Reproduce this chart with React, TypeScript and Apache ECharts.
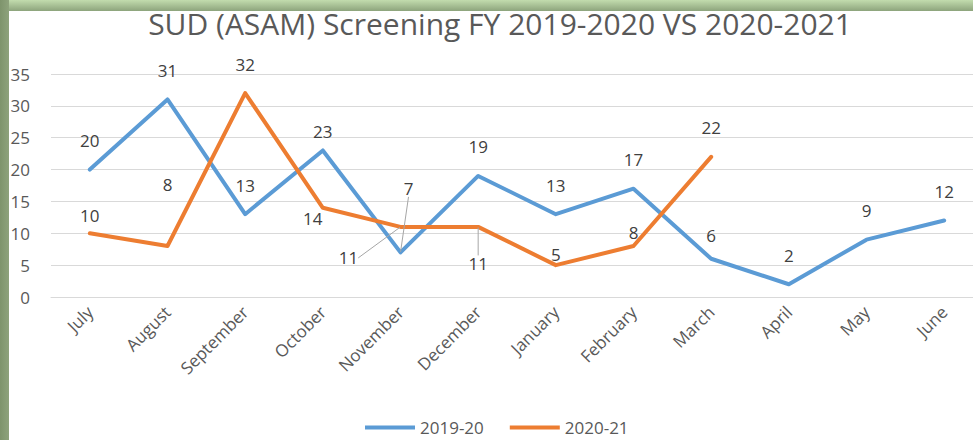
import React, { useEffect, useRef } from "react";
import * as echarts from "echarts";

const categories = ["July", "August", "September", "October", "November", "December", "January", "February", "March", "April", "May", "June"];
const fy1920 = [20, 31, 13, 23, 7, 19, 13, 17, 6, 2, 9, 12];
const fy2021: (number | null)[] = [10, 8, 32, 14, 11, 11, 5, 8, 22, null, null, null];
const seriesNames = ["2019-20", "2020-21"];
const yTicks = { min: 0, max: 35, interval: 5 };

// label displacement (px) from default "top" position: [seriesIndex][dataIndex]
const labelShift: Record<string, [number, number]> = {
  "1-0": [0, 11],
  "1-1": [0, -33],
  "0-3": [0, 10],
  "1-3": [-10, 40],
  "0-4": [8, -35],
  "1-4": [-52, 60],
  "1-5": [0, 66],
  "1-6": [0, 18],
  "1-7": [0, 15],
  "0-8": [0, 6],
};
const leaderLines = ["0-4", "1-4", "1-5"];

export default function App() {
  const ref = useRef<HTMLDivElement>(null);
  useEffect(() => {
    const chart = echarts.init(ref.current!, undefined, { renderer: "svg" });
    const font = "'Open Sans', sans-serif";
    const mkData = (arr: (number | null)[], si: number) =>
      arr.map((v, i) => {
        const key = `${si}-${i}`;
        if (leaderLines.includes(key)) {
          return { value: v, labelLine: { show: true, lineStyle: { color: "#a6a6a6", width: 1 } } };
        }
        return v;
      });
    const colors = ["#5b9bd5", "#ed7d31"];
    chart.setOption({
      animation: false,
      backgroundColor: "#ffffff",
      graphic: [
        {
          type: "rect",
          shape: { x: 0, y: 0, width: 990, height: 11 },
          style: {
            fill: new echarts.graphic.LinearGradient(0, 0, 0, 1, [
              { offset: 0, color: "#c2dcae" },
              { offset: 1, color: "#8da47c" },
            ]),
          },
          z: 100,
        },
        {
          type: "rect",
          shape: { x: 0, y: 0, width: 9, height: 440 },
          style: {
            fill: new echarts.graphic.LinearGradient(0, 0, 1, 0, [
              { offset: 0, color: "#7e946c" },
              { offset: 1, color: "#8ea37c" },
            ]),
          },
          z: 100,
        },
      ],
      title: {
        text: "SUD (ASAM) Screening FY 2019-2020 VS 2020-2021",
        left: 495,
        textAlign: "center",
        top: 3,
        textStyle: { fontFamily: font, fontSize: 30, fontWeight: "normal", color: "#595959" },
      },
      legend: {
        bottom: -1,
        left: 360,
        icon: "rect",
        itemWidth: 50,
        itemHeight: 4,
        itemGap: 26,
        data: seriesNames,
        textStyle: { fontFamily: font, fontSize: 17, color: "#595959" },
      },
      grid: { left: 51, right: 7, top: 74, bottom: 143, containLabel: false },
      xAxis: {
        type: "category",
        data: categories,
        boundaryGap: true,
        axisLine: { show: true, lineStyle: { color: "#d9d9d9", width: 1 } },
        axisTick: { show: false },
        axisLabel: { rotate: 45, fontFamily: font, fontSize: 17, color: "#595959", margin: 12, interval: 0 },
      },
      yAxis: {
        type: "value",
        min: yTicks.min,
        max: yTicks.max,
        interval: yTicks.interval,
        axisLine: { show: false },
        axisTick: { show: false },
        axisLabel: { fontFamily: font, fontSize: 17, color: "#595959", margin: 21 },
        splitLine: { lineStyle: { color: "#d9d9d9", width: 1 } },
      },
      series: [fy1920, fy2021].map((arr, si) => ({
        name: seriesNames[si],
        type: "line",
        data: mkData(arr, si),
        color: colors[si],
        symbol: "circle",
        symbolSize: 1,
        showSymbol: true,
        itemStyle: { color: colors[si] },
        lineStyle: { width: 4, color: colors[si], cap: "round", join: "round" },
        label: {
          show: true,
          position: "top",
          distance: 20,
          fontFamily: font,
          fontSize: 17,
          color: "#404040",
        },
        labelLine: { show: false },
        labelLayout: (p: any) => {
          const s = labelShift[`${si}-${p.dataIndex}`];
          return s ? { dx: s[0], dy: s[1] } : {};
        },
      })),
    });
    return () => chart.dispose();
  }, []);
  return (
    <div
      ref={ref}
      style={{ position: "fixed", left: 0, top: 0, width: 990, height: 440 }}
    />
  );
}
